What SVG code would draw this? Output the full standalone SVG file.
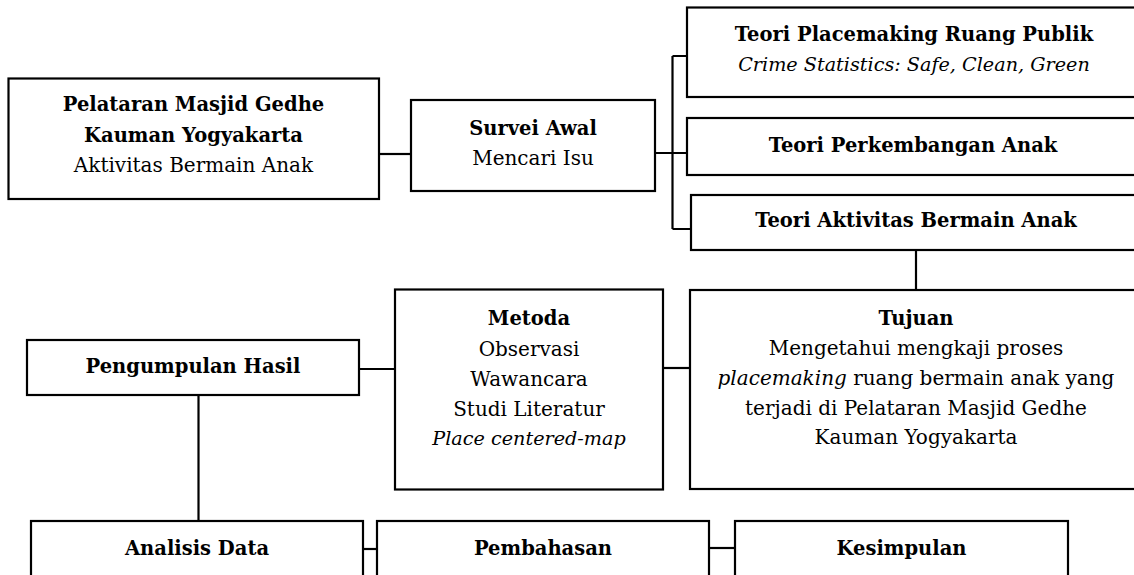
<svg xmlns="http://www.w3.org/2000/svg" width="1134" height="575" viewBox="0 0 1134 575">
<style>
.box{fill:#fff;stroke:#000;stroke-width:2.2}
.ln{fill:none;stroke:#000;stroke-width:2.2}
text{font-family:"DejaVu Serif","Liberation Serif",serif;font-size:20px;fill:#000;text-anchor:middle}
.b{font-weight:bold;font-size:19.5px}
.i{font-style:italic;font-size:19.2px}
</style>
<rect width="1134" height="575" fill="#fff"/>
<g id="connectors">
<path class="ln" d="M379 154H411"/>
<path class="ln" d="M655 153H687M672.5 56V229M672.5 56H687M672.5 229H691"/>
<path class="ln" d="M916 250V290"/>
<path class="ln" d="M663 368H690"/>
<path class="ln" d="M359 369H395"/>
<path class="ln" d="M198.5 395V521"/>
<path class="ln" d="M363 549H377"/>
<path class="ln" d="M709 548H735"/>
</g>
<g id="n-pelataran">
<rect class="box" x="8.5" y="78.5" width="370.5" height="120.5"/>
<text x="193.5" y="111" class="b">Pelataran Masjid Gedhe</text>
<text x="193.5" y="142" class="b">Kauman Yogyakarta</text>
<text x="193.5" y="172">Aktivitas Bermain Anak</text>
</g>
<g id="n-survei">
<rect class="box" x="411" y="100" width="244" height="91"/>
<text x="533" y="135" class="b">Survei Awal</text>
<text x="533" y="165">Mencari Isu</text>
</g>
<g id="n-teori-placemaking">
<rect class="box" x="687" y="7.5" width="460" height="89.5"/>
<text x="914" y="40.5" class="b">Teori Placemaking Ruang Publik</text>
<text x="914" y="70.5" class="i">Crime Statistics: Safe, Clean, Green</text>
</g>
<g id="n-teori-perkembangan">
<rect class="box" x="687" y="118" width="460" height="57"/>
<text x="913" y="152" class="b">Teori Perkembangan Anak</text>
</g>
<g id="n-teori-aktivitas">
<rect class="box" x="691" y="195" width="460" height="55"/>
<text x="916" y="226.5" class="b">Teori Aktivitas Bermain Anak</text>
</g>
<g id="n-tujuan">
<rect class="box" x="690" y="290" width="460" height="199"/>
<text x="916" y="325" class="b">Tujuan</text>
<text x="916" y="355">Mengetahui mengkaji proses</text>
<text x="916" y="385"><tspan class="i" style="font-size:20px">placemaking</tspan> ruang bermain anak yang</text>
<text x="916" y="415">terjadi di Pelataran Masjid Gedhe</text>
<text x="916" y="444">Kauman Yogyakarta</text>
</g>
<g id="n-metoda">
<rect class="box" x="395" y="289.5" width="268" height="200"/>
<text x="529" y="325" class="b">Metoda</text>
<text x="529" y="356">Observasi</text>
<text x="529" y="386">Wawancara</text>
<text x="529" y="416">Studi Literatur</text>
<text x="529" y="445" class="i">Place centered-map</text>
</g>
<g id="n-pengumpulan">
<rect class="box" x="27" y="340" width="332" height="55"/>
<text x="193" y="373" class="b">Pengumpulan Hasil</text>
</g>
<g id="n-analisis">
<rect class="box" x="31" y="521" width="332" height="70"/>
<text x="197" y="555" class="b">Analisis Data</text>
</g>
<g id="n-pembahasan">
<rect class="box" x="377" y="521" width="332" height="70"/>
<text x="543" y="555" class="b">Pembahasan</text>
</g>
<g id="n-kesimpulan">
<rect class="box" x="735" y="521" width="333" height="70"/>
<text x="901.5" y="555" class="b">Kesimpulan</text>
</g>
</svg>
